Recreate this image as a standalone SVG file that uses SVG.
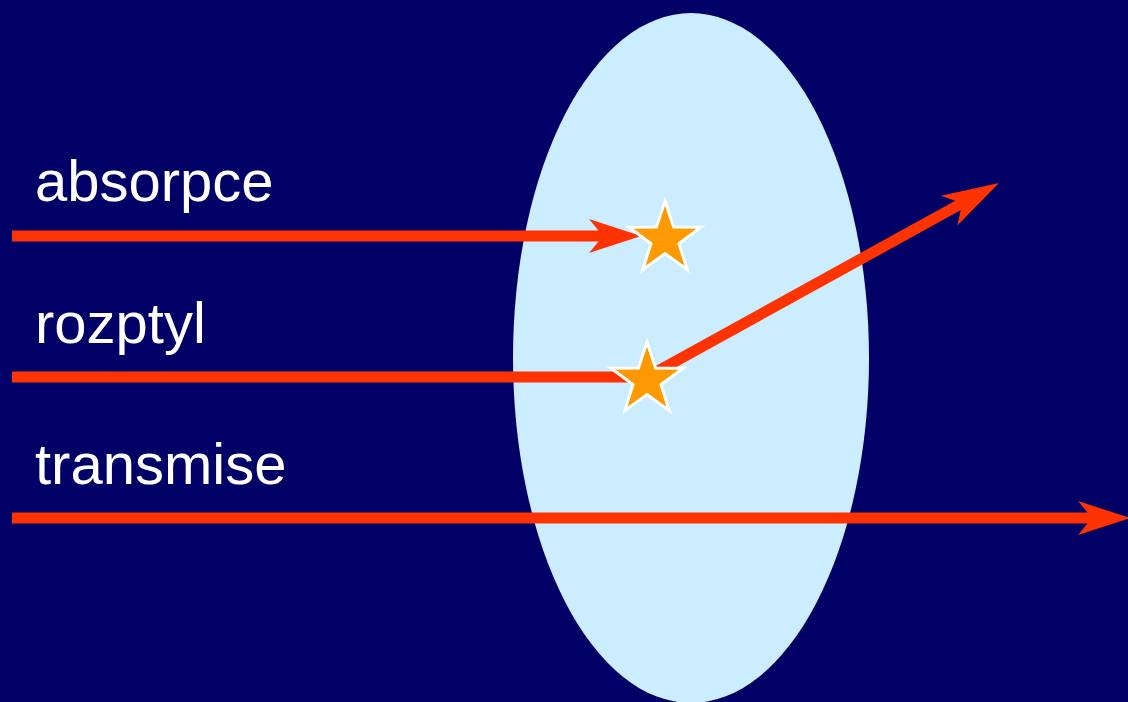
<svg xmlns="http://www.w3.org/2000/svg" width="1128" height="702" viewBox="0 0 1128 702">
<style>
.lbl{font-family:"Liberation Sans",Arial,sans-serif;font-size:58px;fill:#fff}
.ray{stroke:#FF3300;stroke-width:11;fill:none}
.head{fill:#FF3300}
.star{fill:#FF9900;stroke:#fff;stroke-width:3}
</style>
<defs>
<polygon id="ah" points="0,0 -52,-17 -38,0 -52,17"/>
<polygon id="ah2" points="0,0 -57,-17 -42,0 -57,17"/>
<polygon id="st" points="0,-38 8.6,-11.9 36.1,-11.7 14,4.6 22.3,30.7 0,14.6 -22.3,30.7 -14,4.6 -36.1,-11.7 -8.6,-11.9"/>
</defs>
<rect width="1128" height="702" fill="#000066"/>
<g id="medium"><ellipse cx="691" cy="358" rx="178" ry="345" fill="#CCECFF"/></g>
<g id="labels">
<text class="lbl" x="35" y="201">absorpce</text>
<text class="lbl" x="35" y="343">rozptyl</text>
<text class="lbl" x="35" y="484">transmise</text>
</g>
<g id="connectors">
<line class="ray" x1="12" y1="236" x2="606" y2="236"/>
<use href="#ah" class="head" transform="translate(641,236)"/>
<polyline class="ray" points="12,377 647,377 966,201"/>
<use href="#ah2" class="head" transform="translate(999,183) rotate(-28.9)"/>
<line class="ray" x1="12" y1="518" x2="1092" y2="518"/>
<use href="#ah" class="head" transform="translate(1130,518)"/>
</g>
<g id="star1"><use href="#st" class="star" transform="translate(665,239)"/></g>
<g id="star2"><use href="#st" class="star" transform="translate(647,380)"/></g>
</svg>
